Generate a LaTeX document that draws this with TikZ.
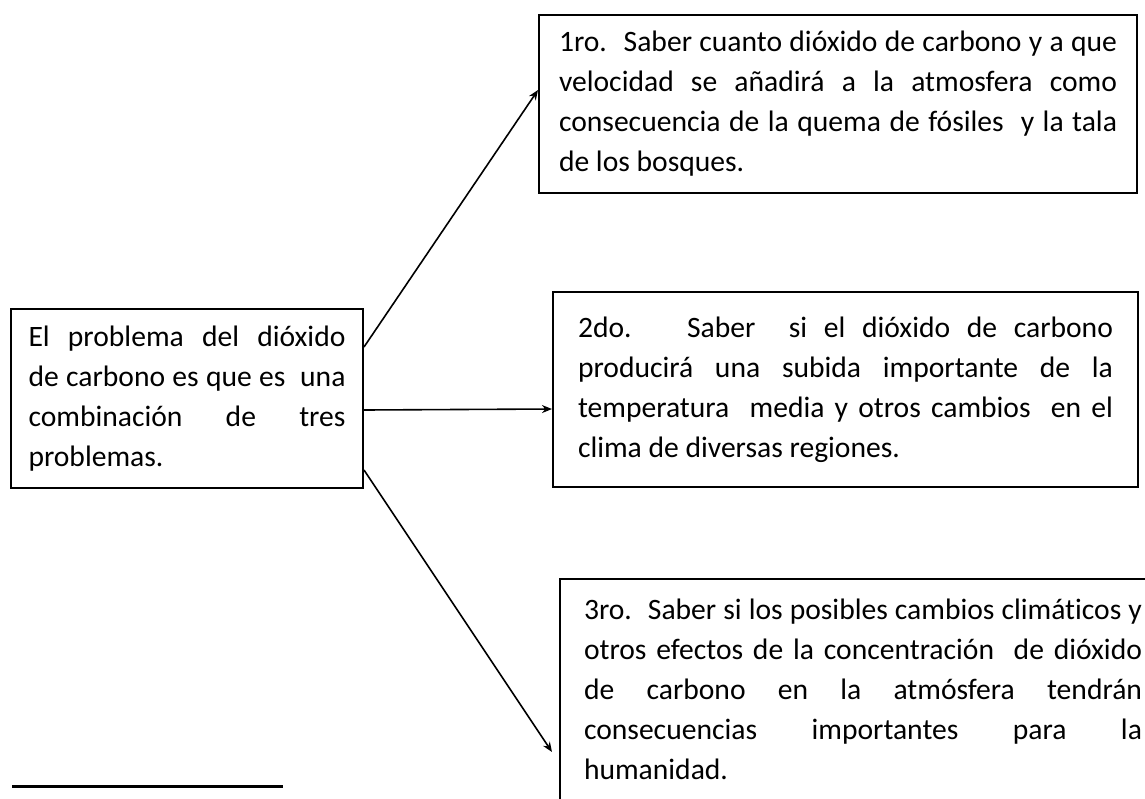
\documentclass[tikz,border=0pt]{standalone}
\usepackage{fontspec}
\setmainfont{Carlito}[Ligatures=NoCommon]
\usetikzlibrary{arrows.meta}
\setlength{\parindent}{0pt}
\tikzset{
  caja/.style={draw, line width=1pt, align=justify, anchor=north west, inner ysep=0pt,
    font=\fontsize{14.8pt}{20pt}\selectfont},
  flecha/.style={-{Stealth[length=5pt,width=4pt]}, line width=0.8pt}
}

\begin{document}
\begin{tikzpicture}[x=0.5pt,y=-0.5pt]
\useasboundingbox (0,0) rectangle (1145,798);
\clip (0,0) rectangle (1145,798);

\node[caja, text width=158.5pt, inner xsep=8.75pt, minimum height=89.5pt] (prob) at (10,308)
  {El problema del dióxido\linebreak de carbono es que es~ una\linebreak combinación de tres\linebreak problemas.};

\node[caja, text width=279pt, inner xsep=10pt, minimum height=89pt] (p1) at (538,14)
  {1ro.\hspace{3pt} Saber cuanto dióxido de carbono y a que\linebreak velocidad se añadirá a la atmosfera como\linebreak consecuencia de la quema de fósiles~ y la tala\linebreak de los bosques.};

\node[caja, text width=267.5pt, inner xsep=12.5pt, minimum height=97.5pt] (p2) at (552,291)
  {2do.~ Saber~ si el dióxido de carbono\linebreak producirá una subida importante de la\linebreak temperatura~ media y otros cambios~ en el\linebreak clima de diversas regiones.\par\vspace*{18pt}};

\node[caja, text width=279pt, inner xsep=12pt, inner ysep=10pt] (p3) at (559,578)
  {3ro.\hspace{3pt} Saber si los posibles cambios climáticos y\linebreak otros efectos de la concentración~ de dióxido\linebreak de carbono en la atmósfera tendrán\linebreak consecuencias importantes para la\linebreak humanidad.\par\vspace*{20pt}};

\draw[flecha] ([yshift=-19.5pt]prob.north east) -- ([yshift=-38pt]p1.north west);
\draw[flecha] ([yshift=-51pt]prob.north east) -- ([yshift=-59pt]p2.north west);
\draw[flecha] ([yshift=-81pt]prob.north east) -- ([xshift=-3.5pt,yshift=-87pt]p3.north west);

\draw[line width=1.5pt] (12,786) -- (283,786);
\end{tikzpicture}
\end{document}
